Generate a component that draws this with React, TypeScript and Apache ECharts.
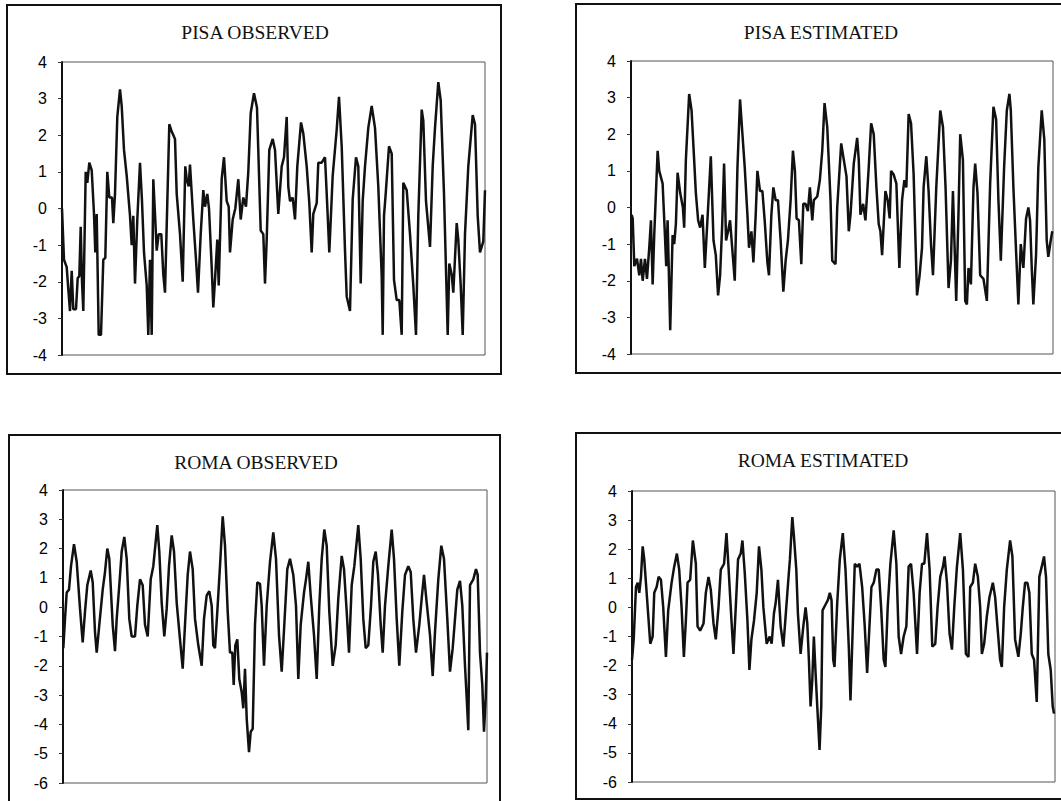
import React, { useEffect, useRef } from "react";
import * as echarts from "echarts";

// [time index, value] pairs
const pisaObserved: number[][] = [
  [0, 0.0], [2, -1.4], [4.7, -1.6], [6.3, -2.2], [8, -2.8], [9.7, -1.7], [11.3, -2.75], [14, -2.75], [15.7, -1.9], [17.3, -1.85],
  [18.7, -0.5], [20, -2.0], [21.3, -2.8], [23.7, 1.0], [25.3, 0.7], [27.3, 1.25], [29.7, 1.05], [32, -0.15], [33.3, -1.2], [34.7, -0.15],
  [36.7, -3.45], [39, -3.45], [41.3, -1.4], [43.3, -1.35], [45.3, 1.0], [47.3, 0.3], [50, 0.3], [51.3, -0.4], [53, 0.4], [55.3, 2.5],
  [58, 3.25], [59.7, 2.8], [62, 1.6], [64.7, 0.9], [68, -0.2], [69.7, -1.0], [71.3, -0.2], [73, -2.05], [75.3, -0.3], [78, 1.25],
  [80, 0.2], [82, -1.2], [84.7, -2.1], [86.3, -3.45], [88, -1.4], [89.7, -3.45], [91.3, 0.8], [93, -0.15], [94.7, -1.15], [96.7, -0.7],
  [99.3, -0.7], [101.3, -1.8], [103, -2.3], [107.3, 2.3], [109.7, 2.1], [113, 1.9], [114.7, 0.4], [118, -0.7], [120.7, -2.0], [123.3, 1.15],
  [124.7, 0.8], [126.7, 0.6], [128, 1.2], [131.3, -0.3], [134, -1.4], [136, -2.3], [138.7, -0.7], [141.3, 0.5], [143, 0.05], [145.3, 0.4],
  [147, 0.0], [149.7, -1.6], [151.3, -2.7], [153, -1.95], [155.3, -0.85], [156.7, -2.1], [159.7, 0.8], [162, 1.4], [164.7, 0.2], [166.7, 0.05],
  [168, -1.2], [170.7, -0.3], [173.3, 0.0], [176.3, 0.8], [178.7, -0.3], [181.3, 0.3], [184, 0.05], [186.3, 1.0], [188.7, 2.6], [192, 3.15],
  [195, 2.75], [198.7, -0.6], [201.3, -0.7], [203, -2.05], [204.7, -0.85], [207.3, 1.6], [210.7, 1.9], [213, 1.6], [216.3, -0.15], [219.7, 1.15],
  [222, 1.4], [224.7, 2.5], [226.3, 0.6], [228, 0.2], [230.7, 0.3], [233, -0.3], [235.3, 1.15], [239, 2.35], [241.3, 2.05], [244.7, 1.15],
  [247.3, 0.15], [249.7, -1.2], [251.3, -0.15], [254.7, 0.15], [256.3, 1.25], [259.7, 1.25], [263, 1.4], [265.3, 0.05], [267.3, -1.2], [270.7, 0.9],
  [274.7, 2.15], [277, 3.05], [279.7, 1.7], [283, -1.15], [284.7, -2.4], [288, -2.8], [290.7, 0.25], [294, 1.4], [296.3, 1.15], [298.7, -2.05],
  [300.7, 0.2], [303, 1.15], [306.3, 2.2], [309.7, 2.8], [313, 2.2], [316.3, 0.6], [319.7, -1.85], [320.7, -3.45], [322, -0.2], [323.7, 0.4],
  [327, 1.7], [329.7, 1.5], [332, -1.95], [334.7, -2.5], [337.3, -2.5], [339.7, -3.45], [341.3, 0.7], [344.7, 0.5], [348, -0.7], [351.3, -2.1],
  [354, -3.45], [356.3, -0.2], [359.7, 2.7], [361.3, 2.4], [364, 0.2], [368, -1.05], [370.7, 1.15], [373, 2.2], [376.3, 3.45], [378.7, 2.95],
  [382, 0.4], [385.7, -3.45], [387.3, -1.5], [389.7, -1.8], [391.3, -2.3], [394.7, -0.4], [396.3, -0.85], [398.7, -2.1], [400.7, -3.45], [403, -0.7],
  [406.3, 1.15], [410.7, 2.55], [413, 2.3], [415.7, -0.2], [418, -1.2], [421.3, -0.9], [423, 0.5],
];

const pisaEstimated: number[][] = [
  [0.7, -0.2], [1.7, -0.3], [3.3, -1.6], [6, -1.4], [8.3, -1.85], [10, -1.4], [11.7, -2.0], [14, -1.4], [16, -1.95], [18.3, -1.1],
  [20, -0.35], [21.7, -2.1], [23.3, -0.75], [26.7, 1.55], [28.3, 1.0], [31.7, 0.65], [34, -0.75], [35.3, -1.6], [36.7, -0.35], [39.3, -3.35],
  [41.7, -0.75], [43.3, -1.0], [45, -0.45], [46.7, 0.95], [49.3, 0.4], [52, 0.0], [53.3, -0.55], [55, 1.3], [58.3, 3.1], [60.7, 2.65],
  [63.3, 1.3], [65, 0.4], [67.3, -0.35], [69.3, -0.55], [71.7, -0.2], [74, -1.65], [76.7, -0.3], [80, 1.4], [82.7, -0.9], [85, -1.3],
  [87.3, -2.4], [89.3, -1.85], [91.3, -0.55], [93.3, 1.2], [95.3, -0.9], [97.3, -0.65], [99.3, -0.35], [101.7, -1.2], [104, -2.0], [106.7, 1.1],
  [109.3, 2.95], [111.7, 2.0], [114, 1.1], [116.7, -0.2], [118.3, -1.1], [120.7, -0.65], [122.7, -1.5], [125, -0.2], [126.7, 1.0], [129.3, 0.45],
  [131.7, 0.45], [134, -0.35], [136.7, -1.5], [138.3, -1.85], [140.7, -0.2], [142.7, 0.55], [145, 0.2], [147.3, 0.2], [150, -0.9], [152.7, -2.3],
  [155, -1.45], [157.3, -0.9], [160, 0.2], [162.3, 1.55], [164.3, 1.0], [166, -0.3], [168.3, -0.35], [170.7, -1.55], [172.7, 0.1], [175, 0.1],
  [177.3, -0.1], [179.3, 0.55], [181.7, -0.35], [183.3, 0.2], [186.7, 0.3], [189.3, 0.75], [191.7, 1.55], [194, 2.85], [196.7, 2.2], [200, 0.2],
  [201.7, -1.45], [205, -1.55], [206.7, 0.0], [210.7, 1.75], [213.3, 1.3], [216, 0.85], [218.3, -0.65], [220, -0.2], [223.3, 1.2], [226.7, 1.9],
  [228.3, 1.3], [230, -0.2], [232.7, 0.1], [235, -0.35], [238.3, 1.1], [240.7, 2.3], [243.3, 2.0], [246, 0.55], [248.3, -0.45], [250, -0.65],
  [251.7, -1.3], [255, 0.45], [257.3, 0.2], [259.3, -0.3], [260.7, 1.0], [263.3, 0.9], [266, 0.65], [269, -1.65], [271.7, 0.2], [274, 0.75],
  [276, 0.55], [278.3, 2.55], [280.7, 2.3], [283.3, 0.9], [286.7, -2.4], [289.3, -1.85], [291.7, -1.1], [293.3, 0.55], [296, 1.4], [298.3, 0.45],
  [300.7, -1.0], [302.7, -1.85], [306, 0.55], [310, 2.65], [312.7, 2.2], [315.3, 0.55], [318.3, -2.2], [320.7, -1.45], [322.7, 0.45], [324, -0.75],
  [326, -2.55], [328.3, -0.1], [330, 2.0], [332.7, 1.3], [335, -2.55], [336.7, -2.65], [338.3, -1.65], [340.7, -2.1], [343.3, 0.55], [345, 1.2],
  [347.3, 0.4], [350, -1.85], [353.3, -1.95], [356.7, -2.55], [360, 0.65], [363.3, 2.75], [366, 2.4], [368.3, 0.2], [370.7, -1.45], [374, 1.1],
  [376.7, 2.65], [379.3, 3.1], [380.7, 2.65], [383.3, 0.55], [386, -1.2], [388.3, -2.65], [390.7, -1.0], [393.3, -1.65], [396, -0.3], [398.3, 0.0],
  [400, -0.35], [401.7, -1.65], [403.3, -2.65], [406, -1.3], [408.3, 1.1], [411.7, 2.65], [414.3, 1.85], [416.7, -0.9], [418.3, -1.35], [420.7, -0.9],
  [422.3, -0.65],
];

const romaObserved: number[][] = [
  [0.3, -1.4], [2, -0.4], [3.7, 0.5], [6, 0.6], [8, 1.4], [11, 2.15], [13.7, 1.55], [17, -0.05], [19.7, -1.2], [22, -0.15],
  [24.3, 0.75], [27.7, 1.25], [29.7, 0.85], [32, -0.85], [33.7, -1.55], [36.3, -0.6], [39.7, 0.6], [42, 1.2], [44.3, 2.0], [46.3, 1.65],
  [49.7, -0.6], [52, -1.5], [53.7, -0.4], [56.3, 0.75], [58.7, 1.9], [61.3, 2.4], [63.7, 1.65], [66.3, -0.4], [68.7, -1.0], [72, -1.0],
  [74.3, 0.05], [77, 0.95], [79.7, 0.75], [82, -0.6], [84.7, -1.0], [87.7, 0.95], [90.3, 1.4], [92.3, 2.1], [94.3, 2.8], [96.3, 1.9],
  [98.7, 0.15], [101.3, -1.0], [103.7, -0.05], [106, 1.4], [108.7, 2.45], [111, 1.9], [113.7, 0.15], [117, -1.1], [119.7, -2.1], [122, -0.6],
  [124.7, 1.1], [127, 1.9], [129.7, 1.3], [132, -0.4], [135.3, -1.3], [138.7, -2.0], [141, -0.4], [143.7, 0.4], [146.3, 0.55], [148.7, 0.05],
  [150.3, -1.3], [152, -1.4], [154.3, -0.15], [157, 1.4], [159.7, 3.1], [162, 2.1], [164.7, -0.15], [167, -1.55], [169.3, -1.55], [170.7, -2.65],
  [172.3, -1.3], [174.3, -1.1], [176.3, -2.45], [178.7, -2.9], [180.3, -3.45], [182, -2.1], [183.7, -3.8], [186, -4.95], [187.7, -4.25], [189.7, -4.15],
  [192, -0.6], [194.3, 0.85], [197, 0.8], [198.7, 0.05], [201, -2.0], [203.7, 0.05], [207, 1.55], [210.3, 2.55], [213, 1.65], [216, -0.95],
  [218.7, -2.2], [221.3, -0.6], [224.3, 1.3], [227, 1.65], [230.3, 1.1], [233, 0.05], [235.3, -2.45], [237.7, -0.6], [241, 0.5], [243, 0.95],
  [245.3, 1.55], [247.7, 0.4], [251, -0.95], [253.7, -2.45], [256.3, 0.05], [258.7, 1.65], [261.3, 2.65], [263.7, 2.1], [266.3, -0.15], [269.7, -2.0],
  [272.7, -1.3], [275.3, 0.3], [278.7, 1.75], [281, 1.3], [283.7, -0.15], [286, -1.55], [288.7, 0.75], [291.3, 1.4], [295.3, 2.8], [297.7, 1.65],
  [300.3, -0.4], [302.7, -1.4], [305.3, -1.3], [308, 0.05], [310.3, 1.55], [312.7, 1.9], [315, 1.1], [317.7, -0.6], [319.7, -1.55], [322, 0.05],
  [325.3, 1.4], [328.7, 2.65], [331, 1.65], [333.7, -0.4], [336.3, -2.0], [339.3, -0.15], [342, 1.1], [345.3, 1.4], [347.7, 1.2], [350.3, -0.4],
  [353, -1.55], [356.3, -0.6], [358.7, 0.3], [361, 1.1], [363.7, 0.15], [367, -0.95], [369.7, -2.35], [372, -0.85], [375.3, 0.95], [378.3, 2.1],
  [381, 1.65], [384.3, -0.4], [387, -2.2], [389.7, -1.4], [392, -0.4], [394.3, 0.6], [397, 0.9], [399.3, 0.05], [402, -2.0], [403.7, -3.1],
  [405.3, -4.2], [407, 0.75], [410.3, 0.95], [413, 1.3], [414.7, 1.1], [417, -1.55], [419.3, -2.65], [421, -4.25], [422.7, -3.1], [424, -1.55],
];

const romaEstimated: number[][] = [
  [0, -1.8], [1.7, -1.1], [4, 0.7], [5.7, 0.85], [7.3, 0.5], [9, 1.05], [10.7, 2.1], [12.3, 1.65], [15, 0.35], [18.3, -1.25],
  [20.7, -1.0], [22.3, 0.5], [24.7, 0.7], [26.7, 1.05], [29, 0.95], [31.3, 0.0], [34, -1.7], [36.3, -0.1], [39.7, 0.85], [42.3, 1.4],
  [45, 1.85], [47.3, 1.3], [49.7, 0.0], [52, -1.7], [54, -0.45], [55.7, 0.85], [58.3, 0.95], [61, 2.3], [64, 1.5], [65.7, -0.65],
  [68.3, -0.8], [71.7, -0.55], [74, 0.5], [76.7, 1.05], [79, 0.6], [81.7, -0.55], [84, -1.1], [86.7, 0.0], [89, 1.3], [92.3, 1.5],
  [94.7, 2.55], [96.7, 1.4], [99.7, -0.45], [101.7, -1.6], [104, 0.0], [106.3, 1.65], [109, 1.85], [110.7, 2.3], [113, 1.2], [115.7, -0.45],
  [117.7, -2.15], [119.7, -1.1], [122.3, -0.45], [125, 0.5], [127.3, 2.1], [129.7, 1.3], [131.7, 0.0], [135, -1.25], [138, -1.0], [140, -1.25],
  [142.3, -0.2], [144, 0.15], [146.3, 0.95], [149, -0.65], [151.7, -1.35], [154, -0.3], [156.7, 0.95], [158.3, 1.65], [160.7, 3.1], [162.3, 2.45],
  [164.7, 1.3], [166.3, -0.2], [169, -1.6], [171.7, -0.65], [174, 0.0], [175.7, -0.55], [177.3, -1.8], [179, -3.4], [180.7, -2.5], [182.3, -1.0],
  [184, -2.25], [185.7, -3.4], [188, -4.9], [189.7, -3.4], [191, -0.1], [194, 0.1], [196.3, 0.25], [198.3, 0.5], [200, 0.25], [201.7, -1.8],
  [203, -2.05], [205.7, 0.15], [208.3, 1.65], [211.3, 2.55], [214, 1.3], [217.3, -1.35], [219, -3.2], [221.3, -0.65], [223.3, 1.5], [225.7, 1.4],
  [228, 1.5], [230.7, 0.7], [233.3, -0.65], [235.7, -2.25], [238, -0.65], [240, 0.7], [242.3, 0.85], [245, 1.3], [247.3, 1.3], [249.7, 0.0],
  [252.3, -1.8], [254, -2.05], [256.3, 0.0], [259, 1.5], [262.3, 2.65], [265, 1.5], [267.3, -1.0], [269.7, -1.6], [272.3, -1.0], [275, -0.65],
  [277.3, 1.4], [279.7, 1.5], [282.3, 0.5], [285.7, -1.6], [288.3, 0.5], [290.7, 1.5], [293, 1.5], [295.7, 2.55], [298.3, 1.3], [301, -1.35],
  [304, -1.25], [306.3, 0.0], [309, 1.05], [311.7, 1.4], [313.3, 1.75], [315.7, 0.85], [318.3, -0.9], [320.7, -1.45], [323, 0.0], [325.7, 1.4],
  [329, 2.55], [331.7, 1.3], [334.7, -1.6], [337.3, -1.7], [339, 0.7], [341.7, 0.85], [344, 1.5], [346.7, 1.05], [349, 0.0], [350.7, -1.6],
  [353, -1.25], [355.7, -0.3], [358.3, 0.35], [361.7, 0.85], [364, 0.35], [366.3, -0.65], [369, -1.8], [370.7, -2.05], [373, 0.0], [375.7, 1.3],
  [379, 2.3], [381.3, 1.75], [384, -1.1], [387.3, -1.7], [389.7, -0.9], [391.7, 0.0], [394, 0.85], [396.3, 0.85], [398.3, 0.5], [400.7, -1.6],
  [403, -1.8], [405.7, -3.25], [408.3, 1.05], [410.7, 1.4], [413, 1.75], [415, 1.05], [417.3, -1.6], [419.7, -2.15], [421.7, -3.4], [423, -3.65],
];

const panelTitles = ["PISA OBSERVED", "PISA ESTIMATED", "ROMA OBSERVED", "ROMA ESTIMATED"];
const yMins = [-4, -4, -6, -6];
const yMaxs = [4, 4, 4, 4];
const xMaxs = [423, 423, 424, 424];
const seriesData = [pisaObserved, pisaEstimated, romaObserved, romaEstimated];

// layout (pixels)
const grids = [
  { left: 62, top: 62, width: 423, height: 293 },
  { left: 631, top: 61, width: 422, height: 293 },
  { left: 63, top: 490, width: 424, height: 293 },
  { left: 632, top: 491, width: 423, height: 291 },
];
const boxes = [
  { x: 7, y: 5, width: 494, height: 369 },
  { x: 576, y: 4, width: 500, height: 369 },
  { x: 9, y: 435, width: 491, height: 390 },
  { x: 576, y: 433, width: 500, height: 366 },
];
const titlePos = [
  { x: 255, y: 32 },
  { x: 821, y: 32 },
  { x: 256, y: 462 },
  { x: 823, y: 460 },
];

export default function App() {
  const ref = useRef<HTMLDivElement>(null);
  useEffect(() => {
    if (!ref.current) return;
    const chart = echarts.init(ref.current, null, { renderer: "svg" });
    const graphic: any[] = [];
    boxes.forEach((b) => {
      graphic.push({
        type: "rect",
        shape: { x: b.x, y: b.y, width: b.width, height: b.height },
        style: { fill: "none", stroke: "#111", lineWidth: 2 },
        z: 0,
      });
    });
    titlePos.forEach((p, i) => {
      graphic.push({
        type: "text",
        x: p.x,
        y: p.y,
        style: {
          text: panelTitles[i],
          fill: "#111",
          font: '19.5px "Liberation Serif", "Times New Roman", serif',
          textAlign: "center",
          textVerticalAlign: "middle",
        },
      });
    });
    chart.setOption({
      animation: false,
      backgroundColor: "#ffffff",
      graphic,
      grid: grids.map((g) => ({
        ...g,
        show: true,
        borderColor: "#555",
        borderWidth: 1,
        backgroundColor: "transparent",
      })),
      xAxis: grids.map((_, i) => ({
        type: "value",
        gridIndex: i,
        min: 0,
        max: xMaxs[i],
        axisLine: { show: false },
        axisTick: { show: false },
        axisLabel: { show: false },
        splitLine: { show: false },
      })),
      yAxis: grids.map((_, i) => ({
        type: "value",
        gridIndex: i,
        min: yMins[i],
        max: yMaxs[i],
        interval: 1,
        axisLine: { show: true, lineStyle: { color: "#111", width: 2 } },
        axisTick: { show: true, length: 4, lineStyle: { color: "#333", width: 1 } },
        axisLabel: {
          margin: 15,
          color: "#000",
          fontSize: 16,
          fontFamily: '"Liberation Sans", Arial, sans-serif',
        },
        splitLine: { show: false },
      })),
      series: seriesData.map((d, i) => ({
        type: "line",
        xAxisIndex: i,
        yAxisIndex: i,
        data: d,
        showSymbol: false,
        symbol: "none",
        lineStyle: { color: "#111", width: 2.5 },
        z: 3,
      })),
    });
    return () => chart.dispose();
  }, []);
  return (
    <div
      ref={ref}
      style={{ position: "absolute", left: 0, top: 0, width: 1061, height: 801, background: "#fff" }}
    />
  );
}
